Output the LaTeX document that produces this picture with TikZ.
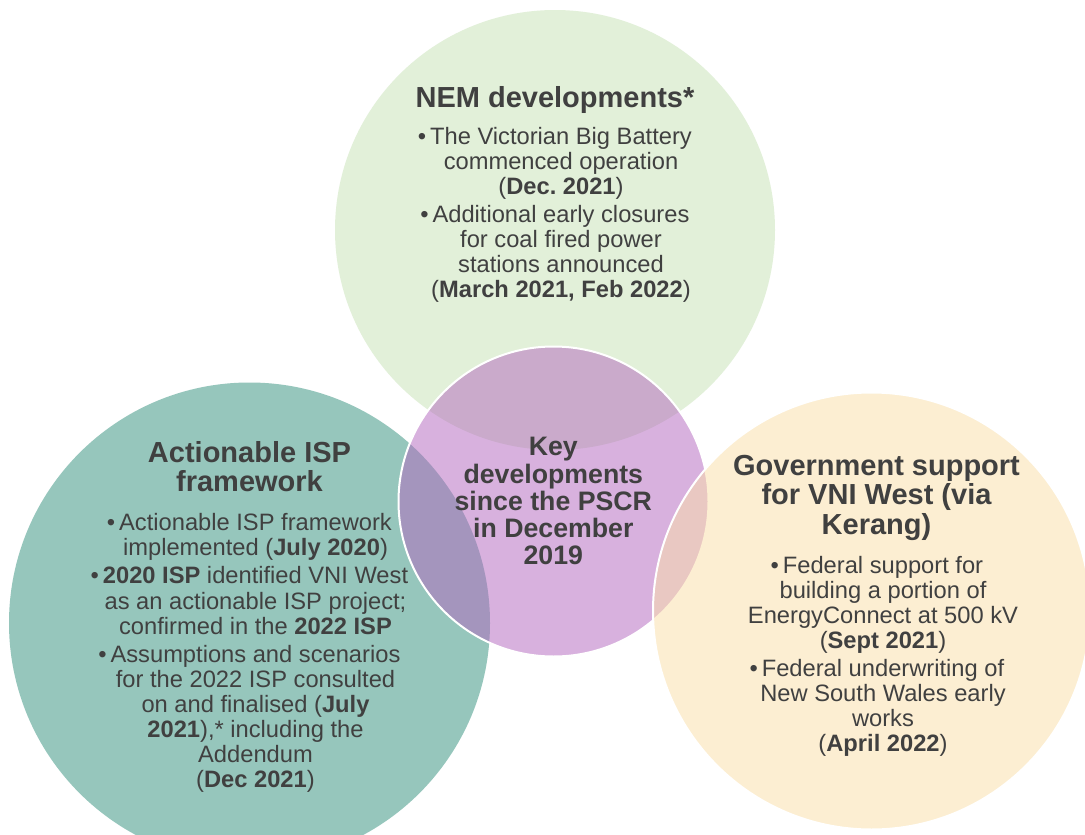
\documentclass[tikz,border=0pt]{standalone}
\usepackage{fontspec}
\setmainfont{Liberation Sans}
\setlength{\lineskiplimit}{-100pt}
\frenchspacing

\definecolor{txt}{HTML}{404040}
\definecolor{nemgreen}{HTML}{E2F0D9}
\definecolor{ispteal}{HTML}{96C6BC}
\definecolor{keypurple}{RGB}{179,101,191}
\definecolor{govorange}{RGB}{251,223,167}

% bullet hanging to the left of a centred line
\newcommand{\bulletmark}{\llap{•\hspace{4pt}}}

% multi-line nodes: the base anchor sits on the last line's baseline
\tikzset{
  heading/.style={font=\fontsize{29}{29.6}\selectfont\bfseries, text=txt,
    align=center, anchor=base, inner sep=0pt},
  keytext/.style={font=\fontsize{26.7}{27.1}\selectfont\bfseries, text=txt,
    align=center, anchor=base, inner sep=0pt},
  bodytext/.style={font=\fontsize{23.7}{25.1}\selectfont, text=txt,
    align=center, anchor=base, inner sep=0pt},
  ring/.style={draw=white, line width=2pt},
}

\begin{document}
\begin{tikzpicture}[x=1pt,y=-1pt]
  \useasboundingbox (0,0) rectangle (1085,835);
  \clip (0,0) rectangle (1085,835);
  \fill[white] (0,0) rectangle (1085,835);

  % circle centres
  \coordinate (cnem) at (555,230);
  \coordinate (cisp) at (249.5,623);
  \coordinate (ckey) at (553.5,501.5);
  \coordinate (cgov) at (871.5,611);

  % outer circles
  \fill[nemgreen] (cnem) circle[radius=220pt];
  \fill[ispteal] (cisp) circle[radius=240.5pt];
  % centre circle, translucent
  \fill[keypurple, fill opacity=0.5] (ckey) circle[radius=155pt];
  \draw[ring] (ckey) circle[radius=155pt];
  % right circle, translucent over the centre one
  \fill[govorange, fill opacity=0.5] (cgov) circle[radius=218.5pt];
  \draw[ring] (cgov) circle[radius=218.5pt];

  % NEM developments
  \node[heading] (nemhead) at (555,107) {NEM developments*};
  \node[bodytext] (nembody) at (561,297.7) {%
    \bulletmark The Victorian Big Battery\\
    commenced operation\\
    (\textbf{Dec. 2021})\\[2.6pt]
    \bulletmark Additional early closures\\
    for coal fired power\\
    stations announced\\
    (\textbf{March 2021, Feb 2022})};

  % Actionable ISP framework
  \node[heading] (isphead) at (249.5,491.7) {Actionable ISP\\framework};
  \node[bodytext] (ispbody) at (255.5,787.7) {%
    \bulletmark Actionable ISP framework\\
    implemented (\textbf{July 2020})\\[3pt]
    \bulletmark\textbf{2020 ISP} identified VNI West\\
    as an actionable ISP project;\\
    confirmed in the \textbf{2022 ISP}\\[3pt]
    \bulletmark Assumptions and scenarios\\
    for the 2022 ISP consulted\\
    on and finalised (\textbf{July}\\
    \textbf{2021}),* including the\\
    Addendum\\
    (\textbf{Dec 2021})};

  % Government support
  \node[heading] (govhead) at (876.5,534.3) {Government support\\for VNI West (via\\Kerang)};
  \node[bodytext] (govbody) at (883,751.7) {%
    \bulletmark Federal support for\\
    building a portion of\\
    EnergyConnect at 500 kV\\
    (\textbf{Sept 2021})\\[2.6pt]
    \bulletmark Federal underwriting of\\
    New South Wales early\\
    works\\
    (\textbf{April 2022})};

  % centre label
  \node[keytext] (keylabel) at (553.3,564.3) {Key\\developments\\since the PSCR\\in December\\2019};
\end{tikzpicture}
\end{document}
